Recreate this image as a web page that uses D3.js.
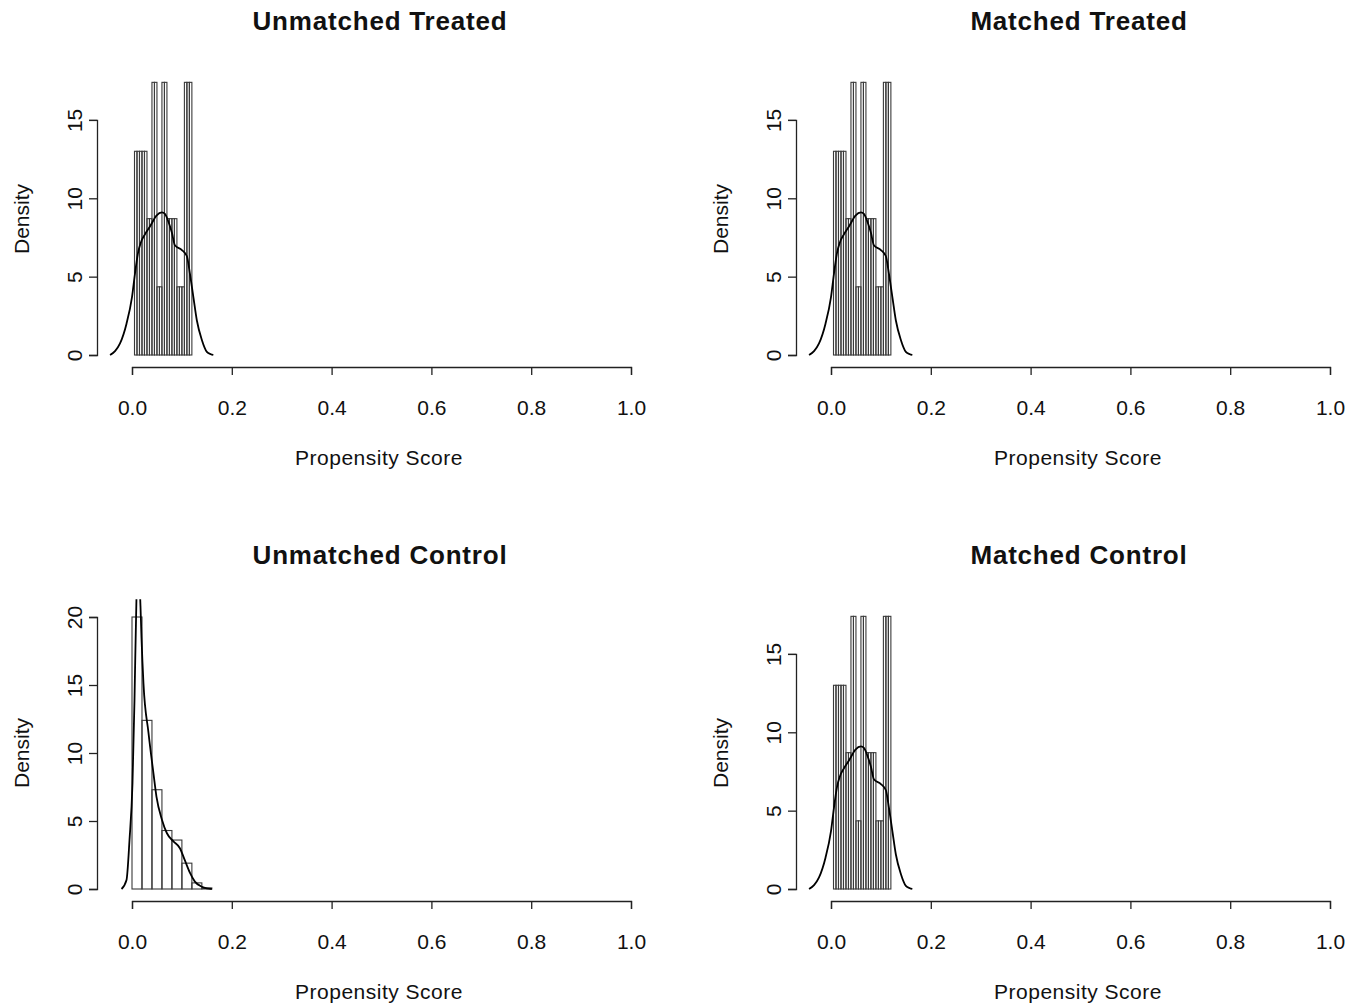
<!DOCTYPE html>
<html>
<head>
<meta charset="utf-8">
<script src="https://cdn.jsdelivr.net/npm/d3@7"></script>
<style>
  html, body { margin: 0; padding: 0; background: #fff; }
  svg { display: block; }
  text { font-family: "Liberation Sans", Arial, Helvetica, sans-serif; fill: #111; }
</style>
</head>
<body>
<svg id="chart" width="1351" height="1007"></svg>
<script>
// ---------------- DATA ----------------
const panelTitles = ["Unmatched Treated", "Matched Treated", "Unmatched Control", "Matched Control"];
const xTickValues = [0.0, 0.2, 0.4, 0.6, 0.8, 1.0];
const xTickLabels = ["0.0", "0.2", "0.4", "0.6", "0.8", "1.0"];
const treatedYTicks = [0, 5, 10, 15];
const controlYTicks = [0, 5, 10, 15, 20];
const xLabel = "Propensity Score";
const yLabel = "Density";

// treated histogram (bin edges and density per bin)
const treatedBreaks = [0.005, 0.010, 0.015, 0.020, 0.025, 0.030, 0.035, 0.040, 0.045, 0.050,
                       0.055, 0.060, 0.065, 0.070, 0.075, 0.080, 0.085, 0.090, 0.095, 0.100,
                       0.105, 0.110, 0.115, 0.120];
const treatedDensity = [13.0, 13.0, 13.0, 13.0, 13.0, 8.7, 8.7, 17.4, 17.4, 4.35,
                        4.35, 17.4, 17.4, 8.7, 8.7, 8.7, 8.7, 4.35, 4.35, 4.35,
                        17.4, 17.4, 17.4];
// treated kernel density curve
const treatedCurveX = [-0.044, -0.034, -0.024, -0.011, 0.0, 0.006, 0.012, 0.018, 0.026, 0.036, 0.049,
                       0.060, 0.066, 0.073, 0.080, 0.086, 0.100, 0.110, 0.116, 0.123, 0.130,
                       0.140, 0.150, 0.158, 0.163];
const treatedCurveY = [0.0, 0.25, 0.74, 2.0, 3.7, 5.2, 6.5, 7.2, 7.7, 8.2, 8.9,
                       9.1, 9.0, 8.5, 7.8, 7.0, 6.7, 6.3, 5.2, 3.7, 2.2,
                       0.96, 0.2, 0.05, 0.0];

// unmatched control histogram
const controlBreaks = [0.0, 0.02, 0.04, 0.06, 0.08, 0.10, 0.12, 0.14, 0.16];
const controlDensity = [20.0, 12.4, 7.3, 4.3, 3.6, 1.9, 0.45, 0.08];
// unmatched control kernel density curve
const controlCurveX = [-0.021, -0.011, -0.005, 0.001, 0.005, 0.009, 0.012, 0.015, 0.017, 0.019,
                       0.023, 0.033, 0.043, 0.049, 0.060, 0.070, 0.083, 0.096, 0.106, 0.116,
                       0.126, 0.140, 0.150, 0.160];
const controlCurveY = [0.0, 0.66, 3.6, 7.8, 13.9, 21.5, 23.5, 22.5, 20.8, 18.5,
                       15.1, 11.5, 8.5, 6.8, 5.1, 4.1, 3.5, 3.0, 2.1, 1.2,
                       0.54, 0.17, 0.05, 0.0];

// ---------------- DRAWING ----------------
const svg = d3.select("#chart");
const colStep = 699, rowStep = 534;
const plotLeft = 97, plotRight = 661;

const panels = [
  {title: panelTitles[0], col: 0, row: 0, breaks: treatedBreaks, dens: treatedDensity, cx: treatedCurveX, cy: treatedCurveY, yTicks: treatedYTicks, yTop: 18.1, yUnit: 15.67},
  {title: panelTitles[1], col: 1, row: 0, breaks: treatedBreaks, dens: treatedDensity, cx: treatedCurveX, cy: treatedCurveY, yTicks: treatedYTicks, yTop: 18.1, yUnit: 15.67},
  {title: panelTitles[2], col: 0, row: 1, breaks: controlBreaks, dens: controlDensity, cx: controlCurveX, cy: controlCurveY, yTicks: controlYTicks, yTop: 21.3, yUnit: 13.6},
  {title: panelTitles[3], col: 1, row: 1, breaks: treatedBreaks, dens: treatedDensity, cx: treatedCurveX, cy: treatedCurveY, yTicks: treatedYTicks, yTop: 18.1, yUnit: 15.67}
];

const x = d3.scaleLinear().domain([0, 1]).range([132, 631]);
const fontStack = "'Liberation Sans', Arial, sans-serif";

panels.forEach((p, i) => {
  const g = svg.append("g").attr("transform", `translate(${p.col * colStep},${p.row * rowStep})`);
  const maxTick = p.yTicks[p.yTicks.length - 1];
  const y = d3.scaleLinear().domain([0, maxTick]).range([355, 355 - maxTick * p.yUnit]);
  const yBottom = 366, yTopPx = y(p.yTop);

  const clipId = "clip" + i;
  g.append("clipPath").attr("id", clipId)
    .append("rect").attr("x", plotLeft).attr("y", yTopPx)
    .attr("width", plotRight - plotLeft).attr("height", yBottom - yTopPx);

  const plot = g.append("g").attr("clip-path", `url(#${clipId})`);

  const bins = p.dens.map((d, k) => ({x0: p.breaks[k], x1: p.breaks[k + 1], d}));
  plot.selectAll("rect.bar").data(bins).enter().append("rect")
    .attr("class", "bar")
    .attr("x", b => x(b.x0))
    .attr("y", b => y(b.d))
    .attr("width", b => x(b.x1) - x(b.x0))
    .attr("height", b => y(0) - y(b.d))
    .attr("fill", "none")
    .attr("stroke", "#3a3a3a")
    .attr("stroke-width", 1.1);

  const line = d3.line().x(d => x(d[0])).y(d => y(d[1])).curve(d3.curveMonotoneX);
  plot.append("path")
    .datum(p.cx.map((v, k) => [v, p.cy[k]]))
    .attr("d", line)
    .attr("fill", "none")
    .attr("stroke", "#000")
    .attr("stroke-width", 1.8);

  // x axis
  const xAxis = d3.axisBottom(x).tickValues(xTickValues)
    .tickFormat((d, k) => xTickLabels[k]).tickSizeOuter(0).tickSize(8);
  const gx = g.append("g").attr("transform", "translate(0,367)").call(xAxis);
  gx.select(".domain").attr("stroke", "#222").attr("stroke-width", 1.3);
  gx.selectAll(".tick line").attr("stroke", "#222").attr("stroke-width", 1.3);
  gx.selectAll(".tick text").attr("y", 48).attr("dy", 0)
    .style("font-size", "21px").style("font-family", fontStack).attr("fill", "#111");

  // y axis
  const yAxis = d3.axisLeft(y).tickValues(p.yTicks).tickFormat(d3.format("d"))
    .tickSizeOuter(0).tickSize(8);
  const gy = g.append("g").attr("transform", `translate(${plotLeft},0)`).call(yAxis);
  gy.select(".domain").attr("stroke", "#222").attr("stroke-width", 1.3);
  gy.selectAll(".tick line").attr("stroke", "#222").attr("stroke-width", 1.3);
  gy.selectAll(".tick text")
    .attr("x", null).attr("dy", null)
    .attr("transform", "translate(-22,0) rotate(-90)")
    .attr("text-anchor", "middle").attr("dy", "0.35em")
    .style("font-size", "21px").style("font-family", fontStack).attr("fill", "#111");

  // titles / labels
  g.append("text").attr("x", 380).attr("y", 30).attr("text-anchor", "middle")
    .style("font-size", "26px").style("font-weight", "bold").style("letter-spacing", "0.8px").text(p.title);
  g.append("text").attr("x", 379).attr("y", 465).attr("text-anchor", "middle")
    .style("font-size", "21px").style("letter-spacing", "0.5px").text(xLabel);
  g.append("text").attr("transform", "translate(22,219) rotate(-90)").attr("text-anchor", "middle")
    .attr("dy", "0.35em").style("font-size", "21px").text(yLabel);
});
</script>
</body>
</html>
